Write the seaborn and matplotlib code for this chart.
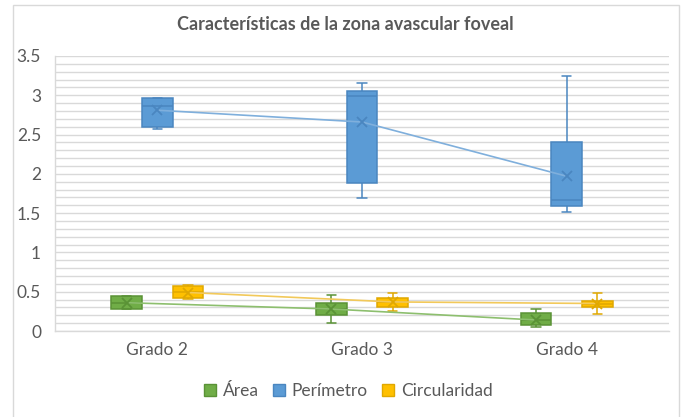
import numpy as np
import pandas as pd
import matplotlib
matplotlib.use("Agg")
import matplotlib.pyplot as plt
from matplotlib.patches import Patch, Rectangle
from matplotlib.ticker import MultipleLocator, FuncFormatter
import seaborn as sns

# ---- data ----
grados = ["Grado 2", "Grado 3", "Grado 4"]
series = ["Área", "Perímetro", "Circularidad"]

area_min = [0.28, 0.10, 0.05]
area_q1 = [0.28, 0.21, 0.08]
area_med = [0.36, 0.28, 0.14]
area_q3 = [0.44, 0.36, 0.23]
area_max = [0.44, 0.46, 0.28]
area_mean = [0.36, 0.28, 0.14]

perim_min = [2.57, 1.69, 1.52]
perim_q1 = [2.60, 1.89, 1.59]
perim_med = [2.87, 2.99, 1.67]
perim_q3 = [2.96, 3.05, 2.41]
perim_max = [2.97, 3.16, 3.24]
perim_mean = [2.81, 2.66, 1.97]

circ_min = [0.41, 0.25, 0.22]
circ_q1 = [0.42, 0.31, 0.31]
circ_med = [0.50, 0.37, 0.35]
circ_q3 = [0.57, 0.42, 0.38]
circ_max = [0.58, 0.48, 0.49]
circ_mean = [0.49, 0.37, 0.35]

fill_colors = {"Área": "#70AD47", "Perímetro": "#5B9BD5", "Circularidad": "#FFC000"}
edge_colors = {"Área": "#5A9236", "Perímetro": "#4A86C0", "Circularidad": "#E0A800"}
line_colors = {"Área": "#8DBF6E", "Perímetro": "#7FAFDC", "Circularidad": "#F2C95A"}

summaries = {
    "Área": (area_min, area_q1, area_med, area_q3, area_max),
    "Perímetro": (perim_min, perim_q1, perim_med, perim_q3, perim_max),
    "Circularidad": (circ_min, circ_q1, circ_med, circ_q3, circ_max),
}
means = {"Área": area_mean, "Perímetro": perim_mean, "Circularidad": circ_mean}

rows = []
for s, stats in summaries.items():
    for gi, g in enumerate(grados):
        for arr in stats:
            rows.append({"Grado": g, "Serie": s, "valor": arr[gi]})
df = pd.DataFrame(rows)

mrows = []
for s, m in means.items():
    for gi, g in enumerate(grados):
        mrows.append({"Grado": g, "Serie": s, "media": m[gi]})
dfm = pd.DataFrame(mrows)

# ---- figure ----
sns.set_theme(style="white")
font = ["Lato", "DejaVu Sans"]
plt.rcParams["font.family"] = font
txt = "#595959"
grid = "#D9D9D9"

fig = plt.figure(figsize=(6.84, 4.17), dpi=100)
ax = fig.add_axes([55 / 684, 1 - 331 / 417, (669 - 55) / 684, (331 - 56) / 417])

for s in series:
    sub = df[df["Serie"] == s]
    sns.boxplot(data=sub, x="Grado", y="valor", hue="Serie", order=grados,
                hue_order=series, palette=fill_colors, saturation=1,
                width=0.45, gap=0, dodge=True, whis=(0, 100), linewidth=1.1,
                linecolor=edge_colors[s], legend=False, ax=ax,
                capwidths=0.045)

n_before = len(ax.lines)
for s in series:
    sub = dfm[dfm["Serie"] == s]
    sns.pointplot(data=sub, x="Grado", y="media", hue="Serie", order=grados,
                  hue_order=series, palette=line_colors, dodge=0.3,
                  markers="x", linestyles="-", errorbar=None,
                  markersize=7, linewidth=1.2, legend=False, ax=ax)

for ln in ax.lines[n_before:]:
    ln.set_zorder(6)
    lab_col = ln.get_color()
    for s in series:
        if matplotlib.colors.same_color(lab_col, line_colors[s]):
            ln.set_markeredgecolor(edge_colors[s])
            ln.set_markerfacecolor(edge_colors[s])
            ln.set_markeredgewidth(1.3)

ax.set_xlim(-0.5, 2.5)
ax.set_ylim(0, 3.5)
ax.yaxis.set_major_locator(MultipleLocator(0.5))
ax.yaxis.set_minor_locator(MultipleLocator(0.1))
ax.yaxis.set_major_formatter(FuncFormatter(lambda v, p: f"{v:g}"))
ax.grid(True, which="both", axis="y", color=grid, linewidth=1.0, zorder=0)
ax.set_axisbelow(True)
ax.tick_params(axis="both", which="both", length=0, colors=txt, labelsize=12.5)
ax.tick_params(axis="y", pad=10)
ax.tick_params(axis="x", pad=8)
ax.set_xlabel("")
ax.set_ylabel("")
for side in ["top", "right"]:
    ax.spines[side].set_visible(False)
for side in ["left", "bottom"]:
    ax.spines[side].set_color(grid)
    ax.spines[side].set_linewidth(1.0)

fig.text(345 / 684, 1 - 25 / 417, "Características de la zona avascular foveal",
         ha="center", va="center", fontsize=13, fontweight="bold", color=txt)

handles = [Patch(facecolor=fill_colors[s], edgecolor=edge_colors[s]) for s in series]
fig.legend(handles, series, loc="center", bbox_to_anchor=(348 / 684, 1 - 391 / 417),
           ncol=3, frameon=False, fontsize=12.5, labelcolor=txt,
           handlelength=0.7, handleheight=0.7, handletextpad=0.4, columnspacing=0.8)

fig.add_artist(Rectangle((13 / 684, -0.02), (679 - 13) / 684, 1.02 - 5 / 417,
                         transform=fig.transFigure, fill=False,
                         edgecolor=grid, linewidth=1.0))

fig.savefig("out.png", dpi=100)
